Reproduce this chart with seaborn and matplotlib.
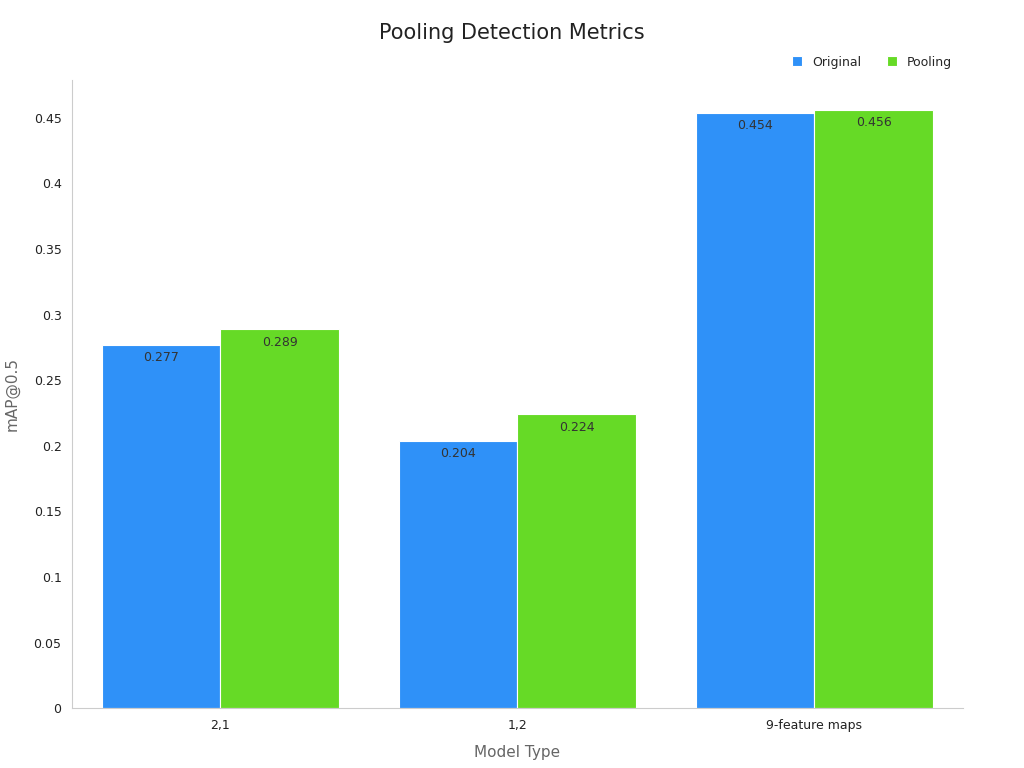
import matplotlib
matplotlib.use("Agg")
import matplotlib.pyplot as plt
import seaborn as sns
import pandas as pd

# values
models = ["2,1", "1,2", "9-feature maps"]
original = [0.277, 0.204, 0.454]
pooling = [0.289, 0.224, 0.456]
series = ["Original", "Pooling"]
colors = ["#2F91F8", "#66DA26"]

df = pd.DataFrame({
    "Model Type": models * 2,
    "mAP@0.5": original + pooling,
    "series": [series[0]] * 3 + [series[1]] * 3,
})

sns.set_style("white")
fig = plt.figure(figsize=(10.24, 7.68), dpi=100)
ax = fig.add_axes([0.0703, 0.078, 0.8701, 0.818])

sns.barplot(data=df, x="Model Type", y="mAP@0.5", hue="series",
            palette=colors, width=0.8, edgecolor="white", linewidth=0.8,
            saturation=1, ax=ax)

for cont in ax.containers:
    ax.bar_label(cont, labels=[f"{v:.3f}".rstrip("0") for v in cont.datavalues],
                 padding=-14, fontsize=9, color="#333333")

ax.set_ylim(0, 0.479)
ax.set_xlim(-0.5, 2.5)
ax.set_yticks([0, 0.05, 0.1, 0.15, 0.2, 0.25, 0.3, 0.35, 0.4, 0.45])
ax.set_yticklabels(["0", "0.05", "0.1", "0.15", "0.2", "0.25", "0.3", "0.35", "0.4", "0.45"])
ax.tick_params(axis="both", labelsize=9, colors="#222222", length=4)
ax.tick_params(axis="both", color="#999999")
for s in ["top", "right"]:
    ax.spines[s].set_visible(False)
for s in ["left", "bottom"]:
    ax.spines[s].set_color("#cccccc")

ax.set_xlabel("Model Type", fontsize=11, color="#666666", labelpad=10)
ax.set_ylabel("mAP@0.5", fontsize=11, color="#666666", labelpad=10)
fig.suptitle("Pooling Detection Metrics", fontsize=15, color="#222222", y=0.97)

ax.legend(loc="lower right", bbox_to_anchor=(1.0, 1.0), ncol=2, frameon=False,
          fontsize=9, handlelength=0.8, handleheight=0.8, columnspacing=2)

fig.savefig("out.png", dpi=100)
